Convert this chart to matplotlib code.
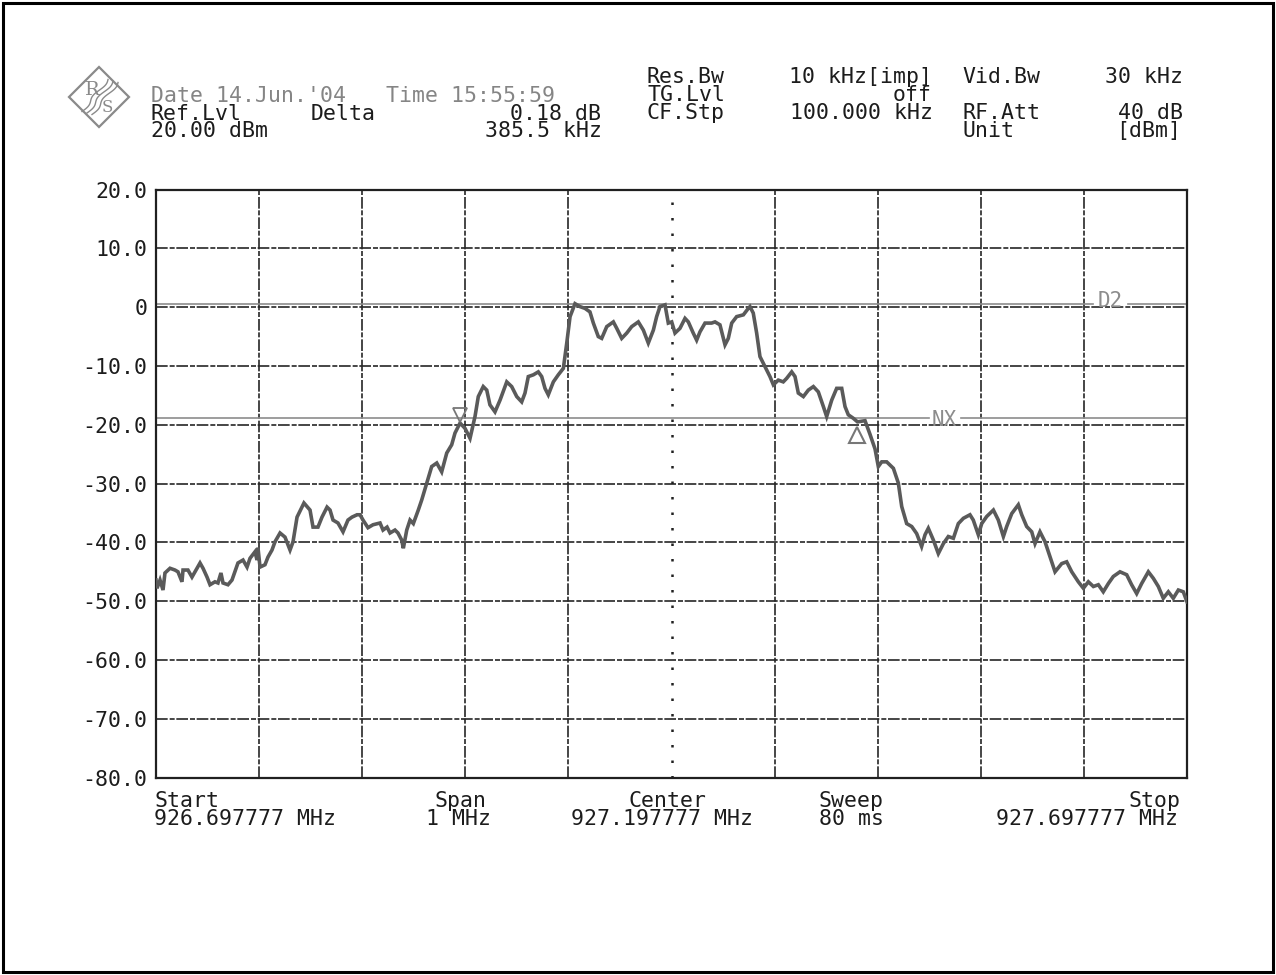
import matplotlib
matplotlib.use("Agg")
import matplotlib.pyplot as plt
from matplotlib import transforms
from matplotlib.patches import Polygon, Rectangle
import numpy as np

plt.rcParams['font.family'] = ['DejaVu Sans Mono', 'DejaVu Sans']
plt.rcParams['axes.unicode_minus'] = False

# ---------------------------------------------------------------- data
SPAN_KHZ = 1000.0                      # 926.697777 .. 927.697777 MHz
LEVEL_TICKS = [20, 10, 0, -10, -20, -30, -40, -50, -60, -70, -80]
LEVEL_LABELS = ["20.0", "10.0", "0", "-10.0", "-20.0", "-30.0", "-40.0",
                "-50.0", "-60.0", "-70.0", "-80.0"]
FREQ_GRID_KHZ = [100, 200, 300, 400, 600, 700, 800, 900]
CENTER_KHZ = 500

# measured trace: frequency offset from start (kHz) and level (dBm)
TRACE_KHZ = [
    0.0, 1.0, 3.9, 6.8, 8.7, 13.6, 18.4, 21.3, 25.2, 26.2, 31.0, 34.9, 37.8,
    42.7, 45.6, 49.5, 52.4, 57.2, 60.1, 63.0, 65.0, 69.8, 73.7, 79.5, 84.4,
    88.3, 91.2, 96.0, 98.0, 98.9, 100.9, 105.7, 108.6, 112.5, 115.4, 120.3,
    125.1, 130.0, 132.9, 136.8, 143.5, 149.4, 152.3, 157.1, 161.0, 165.9,
    168.8, 171.7, 176.5, 181.4, 186.2, 190.1, 195.0, 197.9, 200.8, 205.6,
    210.5, 217.3, 220.2, 224.1, 227.0, 231.8, 234.7, 238.3, 239.9, 243.2,
    246.4, 249.6, 254.4, 257.7, 262.6, 267.4, 272.3, 277.1, 282.0, 286.8,
    290.0, 294.9, 299.7, 304.6, 309.4, 312.6, 317.4, 320.8, 323.9, 328.8,
    333.7, 340.2, 345.0, 349.9, 354.7, 357.9, 361.1, 366.0, 370.8, 374.1,
    377.3, 380.5, 385.4, 390.2, 395.1, 398.4, 401.6, 406.4, 411.2, 416.1,
    420.9, 424.2, 429.0, 432.3, 437.2, 443.6, 446.9, 451.7, 456.6, 461.4,
    467.8, 472.7, 477.5, 482.4, 485.6, 488.8, 493.7, 496.9, 500.2, 503.4,
    508.2, 513.1, 516.3, 521.1, 524.4, 527.6, 532.5, 538.9, 542.2, 547.0,
    551.9, 555.1, 558.4, 563.2, 569.7, 574.5, 576.1, 579.3, 582.6, 585.8,
    590.7, 595.5, 598.8, 603.6, 608.4, 611.7, 616.6, 619.8, 623.0, 627.9,
    632.7, 637.6, 642.4, 647.3, 650.5, 655.4, 660.2, 665.1, 668.3, 671.5,
    676.4, 680.4, 687.7, 692.5, 697.4, 700.6, 703.9, 708.7, 715.2, 720.0,
    723.3, 728.1, 733.0, 737.8, 742.6, 745.9, 749.1, 754.0, 758.8, 763.7,
    768.5, 773.4, 778.2, 783.1, 789.5, 792.7, 797.6, 800.9, 805.7, 812.2,
    817.0, 821.9, 825.1, 830.0, 836.4, 839.7, 844.5, 849.4, 852.6, 857.4,
    862.3, 867.1, 872.0, 878.5, 883.3, 888.2, 894.6, 899.5, 904.3, 909.2,
    914.0, 918.8, 923.7, 928.5, 935.0, 941.5, 946.3, 951.2, 956.0, 962.5,
    967.3, 972.2, 977.0, 981.9, 986.7, 991.6, 996.4, 1000.0,
]
TRACE_DBM = [
    -46.4, -47.8, -46.4, -48.1, -45.2, -44.4, -44.7, -45.0, -46.7, -44.7,
    -44.7, -45.9, -45.0, -43.5, -44.4, -45.9, -47.2, -46.7, -46.9, -45.2,
    -46.9, -47.2, -46.4, -43.5, -43.0, -44.2, -42.7, -41.6, -43.0, -40.9,
    -44.2, -43.8, -42.5, -41.3, -39.9, -38.4, -39.1, -41.3, -39.9, -35.7,
    -33.3, -34.5, -37.4, -37.4, -35.7, -34.0, -34.5, -36.2, -36.7, -38.2,
    -36.2, -35.7, -35.3, -35.3, -36.2, -37.5, -37.0, -36.7, -37.9, -37.4,
    -38.4, -37.9, -38.4, -39.6, -41.0, -37.9, -36.2, -36.8, -34.5, -32.8,
    -29.9, -27.1, -26.5, -28.0, -24.8, -23.4, -21.4, -19.7, -20.6, -22.3,
    -18.6, -15.2, -13.5, -14.1, -16.6, -17.8, -15.8, -12.7, -13.5, -15.2,
    -16.1, -14.6, -11.8, -11.5, -11.0, -11.8, -13.8, -14.9, -12.7, -11.5,
    -10.4, -6.1, -1.6, 0.6, 0.1, -0.2, -0.8, -2.7, -5.0, -5.3,
    -3.3, -2.5, -3.6, -5.3, -4.4, -3.3, -2.5, -3.9, -6.1, -3.9,
    -1.6, 0.1, 0.4, -2.7, -2.5, -4.4, -3.6, -1.9, -2.5, -4.4,
    -5.6, -4.2, -2.7, -2.7, -2.5, -3.0, -6.4, -5.3, -2.7, -1.6,
    -1.3, -0.2, 0.1, -1.0, -4.4, -8.4, -10.1, -11.8, -13.2, -12.4,
    -12.7, -12.1, -11.0, -11.8, -14.6, -15.2, -14.1, -13.5, -14.4, -16.9,
    -18.6, -15.8, -13.8, -13.8, -16.9, -18.3, -18.9, -19.5, -19.3, -21.6,
    -24.1, -27.1, -26.3, -26.3, -27.4, -29.9, -33.9, -36.8, -37.3, -38.5,
    -40.7, -38.7, -37.6, -39.6, -41.9, -40.2, -39.0, -39.3, -36.8, -35.9,
    -35.3, -36.2, -38.7, -36.8, -35.6, -34.5, -36.2, -39.0, -37.3, -35.1,
    -33.6, -35.3, -37.3, -38.2, -40.2, -38.2, -39.9, -42.4, -45.0, -43.6,
    -43.3, -45.0, -46.7, -47.8, -46.7, -47.5, -47.2, -48.4, -47.0, -45.8,
    -45.0, -45.5, -47.2, -48.7, -47.0, -45.0, -46.1, -47.5, -49.5, -48.4,
    -49.5, -48.1, -48.4, -50.1,
]

# markers: marker 1 and delta marker (delta 385.5 kHz / 0.18 dB)
MARKER1_KHZ, MARKER1_DBM = 294.9, -19.7
DELTA_KHZ, DELTA_DB = 385.5, 0.18

# display lines
D2_LEVEL = 0.6
NX_LEVEL = -18.9

DATE_TEXT = "Date 14.Jun.'04"
TIME_TEXT = "Time 15:55:59"

# ---------------------------------------------------------------- figure
W, H = 1276, 975
fig = plt.figure(figsize=(W / 100, H / 100), dpi=100)
fig.patch.set_facecolor("white")

INK = "#1c1c1c"
GREY = "#858585"
FS = 15.5

AX_L, AX_R, AX_T, AX_B = 156, 1187, 189.6, 777.6
ax = fig.add_axes([AX_L / W, 1 - AX_B / H, (AX_R - AX_L) / W, (AX_B - AX_T) / H])
ax.set_xlim(0, SPAN_KHZ)
ax.set_ylim(-80, 20)
ax.set_facecolor("white")

ax.set_xticks([])
ax.set_yticks(LEVEL_TICKS)
ax.set_yticklabels(LEVEL_LABELS)
ax.tick_params(axis="y", length=0, pad=6, labelsize=FS, labelcolor=INK)
for sp in ax.spines.values():
    sp.set_color("#202020")
    sp.set_linewidth(1.6)

grid_kw = dict(color="#262626", lw=1.2, ls=(0, (7, 1.2, 3, 1.0)), zorder=1)
for lv in LEVEL_TICKS[1:-1]:
    ax.axhline(lv, **grid_kw)
for fk in FREQ_GRID_KHZ:
    ax.axvline(fk, **grid_kw)
ax.axvline(CENTER_KHZ, color="#202020", lw=1.8, ls=(0, (1, 5.2)), zorder=1)

# display lines with their labels
line_kw = dict(color="#8c8c8c", lw=1.2, zorder=2)
ax.plot([0, 909], [D2_LEVEL, D2_LEVEL], **line_kw)
ax.plot([943, SPAN_KHZ], [D2_LEVEL, D2_LEVEL], **line_kw)
ax.text(926, D2_LEVEL + 0.5, "D2", color="#8c8c8c", fontsize=15,
        ha="center", va="center", zorder=3)
ax.plot([0, 750], [NX_LEVEL, NX_LEVEL], **line_kw)
ax.plot([781, SPAN_KHZ], [NX_LEVEL, NX_LEVEL], **line_kw)
ax.text(765, NX_LEVEL - 0.3, "NX", color="#8c8c8c", fontsize=15,
        ha="center", va="center", zorder=3)

# trace
ax.plot(TRACE_KHZ, TRACE_DBM, color="#5a5a5a", lw=2.6, zorder=4,
        solid_joinstyle="miter")

# marker symbols
m1_tr = transforms.offset_copy(ax.transData, fig=fig, x=0, y=8, units="dots")
ax.plot([MARKER1_KHZ], [MARKER1_DBM], marker="v", ms=10, mfc="none",
        mec="#777777", mew=1.3, transform=m1_tr, zorder=5)
m2_tr = transforms.offset_copy(ax.transData, fig=fig, x=0, y=-13, units="dots")
ax.plot([MARKER1_KHZ + DELTA_KHZ], [MARKER1_DBM + DELTA_DB], marker="^", ms=11,
        mfc="none", mec="#777777", mew=1.5, transform=m2_tr, zorder=5)

# ---------------------------------------------------------------- annotation layer (pixel coordinates)
ov = fig.add_axes([0, 0, 1, 1], zorder=-2)
ov.set_xlim(0, W)
ov.set_ylim(H, 0)
ov.axis("off")

ov.add_patch(Rectangle((3, 3), W - 6, H - 6, fill=False, ec="black", lw=2.2))


def put(x, y, s, ha="left", color=INK, size=FS):
    ov.text(x, y, s, ha=ha, va="center", color=color, fontsize=size)


# logo
cx, cy, r = 99, 97, 30
ov.add_patch(Polygon([(cx - r, cy), (cx, cy - r), (cx + r, cy), (cx, cy + r)],
                     closed=True, fill=False, ec="#8a8a8a", lw=1.6))
ov.text(cx - 7, cy - 7, "R", color="#8a8a8a", fontsize=14, ha="center",
        va="center", family="DejaVu Serif")
ov.text(cx + 8, cy + 10, "S", color="#8a8a8a", fontsize=12, ha="center",
        va="center", family="DejaVu Serif")
tt = np.linspace(0, 1, 40)
for k in (-5, 0, 5):
    px = cx + 14 - 26 * tt + k + 2.0 * np.sin(tt * 3 * np.pi)
    py = cy - 16 + 32 * tt + k * 0.3
    ov.plot(px, py, color="#8a8a8a", lw=1.0)

R1, R2, R3, R4 = 77, 95, 113, 131
put(151, R2 + 1, DATE_TEXT, color=GREY)
put(386, R2 + 1, TIME_TEXT, color=GREY)
put(151, R3 + 0.5, "Ref.Lvl")
put(151, R4, "20.00 dBm")
put(311, R3 + 0.5, "Delta")
put(601, R3 + 0.5, "0.18 dB", ha="right")
put(602, R4, "385.5 kHz", ha="right")

put(647, R1, "Res.Bw")
put(647, R2, "TG.Lvl")
put(647, R3, "CF.Stp")
put(932, R1, "10 kHz[imp]", ha="right")
put(932, R2, "off", ha="right")
put(933, R3, "100.000 kHz", ha="right")
put(962, R1, "Vid.Bw")
put(962, R3, "RF.Att")
put(962, R4, "Unit")
put(1183, R1, "30 kHz", ha="right")
put(1183, R3, "40 dB", ha="right")
put(1181, R4, "[dBm]", ha="right")

B1, B2 = 801, 819
put(154, B1, "Start")
put(154, B2, "926.697777 MHz")
put(460, B1, "Span", ha="center")
put(459, B2, "1 MHz", ha="center")
put(667, B1, "Center", ha="center")
put(662, B2, "927.197777 MHz", ha="center")
put(819, B1, "Sweep")
put(819, B2, "80 ms")
put(1180, B1, "Stop", ha="right")
put(1178, B2, "927.697777 MHz", ha="right")

fig.savefig("out.png", dpi=100, facecolor="white")
